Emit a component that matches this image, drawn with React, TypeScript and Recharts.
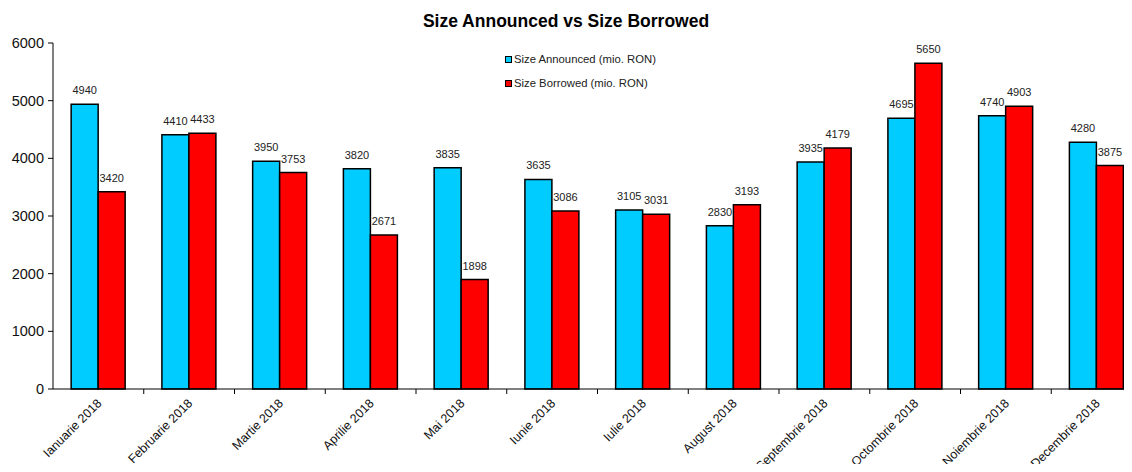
import React from "react";
import {
  BarChart,
  Bar,
  XAxis,
  YAxis,
  LabelList,
} from "recharts";

const months = [
  "Ianuarie 2018",
  "Februarie 2018",
  "Martie 2018",
  "Aprilie 2018",
  "Mai 2018",
  "Iunie 2018",
  "Iulie 2018",
  "August 2018",
  "Septembrie 2018",
  "Octombrie 2018",
  "Noiembrie 2018",
  "Decembrie 2018",
];
const announced = [4940, 4410, 3950, 3820, 3835, 3635, 3105, 2830, 3935, 4695, 4740, 4280];
const borrowed = [3420, 4433, 3753, 2671, 1898, 3086, 3031, 3193, 4179, 5650, 4903, 3875];
const yTicks = [0, 1000, 2000, 3000, 4000, 5000, 6000];

const data = months.map((m, i) => ({
  month: m,
  announced: announced[i],
  borrowed: borrowed[i],
}));

const CHART_W = 1142;
const CHART_H = 472;
const Y_W = 53;
const FONT = "'Liberation Sans', Arial, sans-serif";

const BLUE = "#00CCFF";
const RED = "#FF0000";

// x tick: rotated label ending at category centre, tick mark between categories
function MonthTick(props: any) {
  const { x, y, payload } = props;
  const half = (CHART_W - Y_W) / months.length / 2;
  const tx = x + 4;
  const ty = y + 7;
  return (
    <g>
      <line x1={x + half} x2={x + half} y1={y - 8} y2={y - 3} stroke="#000" />
      <text
        x={tx}
        y={ty}
        textAnchor="end"
        fontSize={12.5}
        fontFamily={FONT}
        fill="#111"
        transform={`rotate(-45, ${tx}, ${ty})`}
      >
        {payload.value}
      </text>
    </g>
  );
}

function LegendBox() {
  const items = [
    { color: BLUE, label: "Size Announced (mio. RON)" },
    { color: RED, label: "Size Borrowed (mio. RON)" },
  ];
  return (
    <div
      style={{
        position: "absolute",
        top: 47,
        left: 505,
        fontFamily: FONT,
        fontSize: 11.3,
        color: "#222",
      }}
    >
      {items.map((it) => (
        <div
          key={it.label}
          style={{ display: "flex", alignItems: "center", height: 24 }}
        >
          <span
            style={{
              display: "inline-block",
              width: 5,
              height: 5,
              background: it.color,
              border: "1.5px solid #000",
              marginRight: 2,
            }}
          />
          {it.label}
        </div>
      ))}
    </div>
  );
}

export default function App() {
  return (
    <div style={{ margin: -8, width: 1132, height: 472, overflow: "hidden", background: "#fff" }}>
      <div style={{ position: "relative", width: CHART_W, height: CHART_H }}>
        <div
          style={{
            position: "absolute",
            top: 11,
            left: 0,
            width: 1132,
            textAlign: "center",
            fontFamily: FONT,
            fontWeight: "bold",
            fontSize: 17.5,
            color: "#000",
          }}
        >
          Size Announced vs Size Borrowed
        </div>
        <BarChart
          width={CHART_W}
          height={CHART_H}
          data={data}
          margin={{ top: 43, right: 0, bottom: 0, left: 0 }}
          barGap={0}
          barCategoryGap="20%"
        >
          <XAxis
            dataKey="month"
            interval={0}
            height={83}
            tickLine={false}
            axisLine={{ stroke: "#000" }}
            tick={<MonthTick />}
          />
          <YAxis
            width={Y_W}
            domain={[0, 6000]}
            ticks={yTicks}
            interval={0}
            tickSize={5}
            tickMargin={4}
            axisLine={{ stroke: "#000" }}
            tickLine={{ stroke: "#000" }}
            tick={{ fontSize: 14.5, fill: "#111", fontFamily: FONT }}
          />
          <Bar
            dataKey="announced"
            name="Size Announced (mio. RON)"
            fill={BLUE}
            stroke="#000"
            strokeWidth={1.5}
            isAnimationActive={false}
          >
            <LabelList
              dataKey="announced"
              position="top"
              offset={10}
              style={{ fontSize: 11, fill: "#222", fontFamily: FONT }}
            />
          </Bar>
          <Bar
            dataKey="borrowed"
            name="Size Borrowed (mio. RON)"
            fill={RED}
            stroke="#000"
            strokeWidth={1.5}
            isAnimationActive={false}
          >
            <LabelList
              dataKey="borrowed"
              position="top"
              offset={10}
              style={{ fontSize: 11, fill: "#222", fontFamily: FONT }}
            />
          </Bar>
        </BarChart>
        <LegendBox />
      </div>
    </div>
  );
}
